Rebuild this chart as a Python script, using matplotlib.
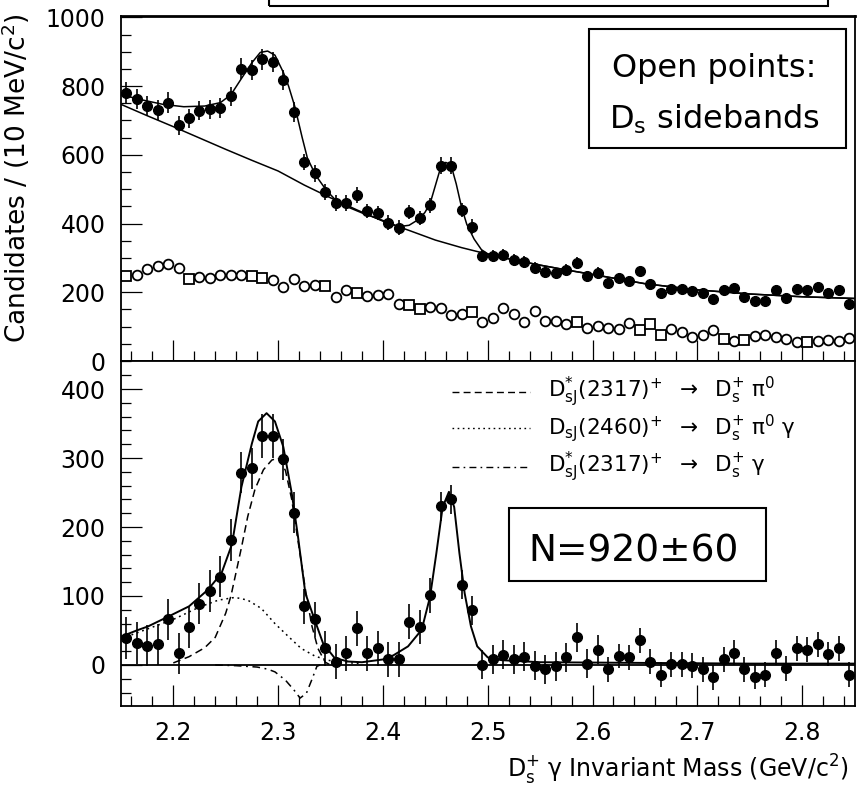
import numpy as np
import matplotlib
matplotlib.use("Agg")
import matplotlib.pyplot as plt
from matplotlib.patches import Rectangle
from matplotlib.ticker import MultipleLocator

plt.rcParams['font.family'] = ['DejaVu Sans']
plt.rcParams['mathtext.default'] = 'regular'

# 10 MeV bins from 2.15 to 2.85 GeV
bin_edges = np.arange(2.15, 2.8501, 0.01)
mass = 0.5 * (bin_edges[:-1] + bin_edges[1:])

# top panel: signal region candidates
top_counts = [781, 762, 742, 730, 752, 686, 706, 728, 733, 736,
              770, 851, 847, 878, 870, 818, 725, 579, 546, 492,
              461, 459, 482, 437, 430, 403, 388, 434, 417, 453,
              568, 568, 440, 391, 306, 306, 308, 294, 288, 272,
              259, 255, 265, 286, 246, 257, 228, 241, 233, 262,
              223, 197, 209, 209, 204, 197, 180, 207, 212, 185,
              175, 175, 207, 182, 209, 207, 214, 197, 207, 165]
top_err = [30, 30, 30, 30, 30, 28, 28, 28, 28, 28,
           28, 30, 30, 30, 30, 30, 30, 24, 24, 23,
           23, 23, 23, 21, 21, 21, 21, 21, 21, 21,
           25, 25, 21, 21, 17, 17, 17, 17, 17, 17,
           17, 17, 17, 17, 17, 17, 15, 15, 15, 15,
           15, 15, 15, 15, 15, 15, 15, 15, 15, 15,
           15, 15, 15, 15, 15, 15, 15, 15, 15, 15]

# top panel: Ds sideband candidates (open points)
side_counts = [246, 249, 267, 277, 283, 272, 240, 245, 243, 250,
               250, 251, 246, 243, 236, 214, 238, 218, 220, 218,
               187, 207, 199, 189, 192, 194, 165, 163, 151, 157,
               155, 134, 136, 143, 114, 126, 155, 136, 114, 146,
               116, 115, 107, 114, 97, 102, 97, 92, 112, 90,
               107, 75, 92, 84, 71, 75, 90, 65, 58, 61,
               73, 76, 71, 63, 54, 55, 58, 61, 58, 68]
side_square = [0, 6, 12, 13, 19, 22, 27, 28, 33, 43, 49, 50, 51, 57, 59, 65]

# top panel fit curves
bkg_x = [2.15, 2.175, 2.20, 2.225, 2.25, 2.275, 2.30, 2.325, 2.35, 2.375,
         2.40, 2.425, 2.45, 2.475, 2.50, 2.525, 2.55, 2.575, 2.60, 2.65,
         2.70, 2.75, 2.80, 2.85]
bkg_y = [747, 714, 682, 649, 616, 584, 553, 512, 475, 440,
         407, 380, 352, 330, 311, 294, 279, 265, 252, 225,
         207, 195, 187, 182]
fit_x = [2.15, 2.17, 2.19, 2.21, 2.23, 2.245, 2.255, 2.265, 2.275, 2.283,
         2.29, 2.297, 2.305, 2.31, 2.316, 2.323, 2.328, 2.336, 2.346, 2.355,
         2.365, 2.38, 2.40, 2.415, 2.425, 2.434, 2.44, 2.445, 2.45, 2.455,
         2.46, 2.465, 2.47, 2.475, 2.48, 2.487, 2.494, 2.50, 2.525, 2.55,
         2.575, 2.60, 2.65, 2.70, 2.75, 2.80, 2.85]
fit_y = [775, 760, 747, 740, 742, 752, 775, 822, 868, 898,
         902, 890, 840, 800, 740, 650, 590, 540, 497, 468,
         450, 431, 409, 391, 395, 412, 432, 458, 510, 562,
         578, 570, 515, 448, 398, 355, 324, 312, 294, 279,
         265, 252, 225, 207, 195, 187, 182]

# bottom panel: sideband/background subtracted
sub_counts = [39, 32, 28, 30, 66, 17, 55, 89, 107, 128,
              181, 279, 285, 332, 332, 298, 221, 85, 66, 24,
              5, 17, 53, 17, 24, 8, 8, 63, 55, 101,
              230, 240, 116, 79, 0, 8, 15, 8, 12, -1,
              -6, -2, 11, 40, 2, 22, -6, 13, 11, 36,
              5, -14, 1, 1, -1, -6, -18, 8, 18, -6,
              -17, -14, 18, -5, 24, 22, 30, 16, 24, -14]
sub_err = [30, 30, 30, 30, 30, 30, 30, 30, 30, 30,
           30, 30, 30, 32, 32, 30, 30, 25, 25, 25,
           25, 25, 25, 25, 25, 25, 25, 25, 25, 25,
           21, 21, 21, 21, 21, 21, 21, 21, 21, 21,
           21, 21, 21, 21, 21, 21, 18, 18, 18, 18,
           18, 18, 18, 18, 18, 18, 18, 18, 18, 18,
           18, 18, 18, 18, 18, 18, 18, 18, 18, 18]

# bottom panel fit curves
tot_x = [2.15, 2.165, 2.176, 2.195, 2.215, 2.233, 2.246, 2.256, 2.265, 2.275,
         2.281, 2.289, 2.297, 2.305, 2.313, 2.319, 2.326, 2.335, 2.343, 2.354,
         2.367, 2.38, 2.40, 2.41, 2.424, 2.437, 2.445, 2.451, 2.457, 2.463,
         2.468, 2.473, 2.478, 2.484, 2.49, 2.50, 2.513, 2.55, 2.65, 2.75, 2.85]
tot_y = [41, 50, 56, 70, 85, 109, 133, 175, 258, 321,
         353, 365, 353, 316, 249, 186, 104, 65, 31, 10,
         5, 4, 8, 14, 27, 51, 99, 162, 229, 251,
         229, 162, 104, 56, 27, 11, 7, 4, 3, 2, 2]
pi0_x = [2.20, 2.215, 2.23, 2.24, 2.25, 2.255, 2.26, 2.265, 2.271, 2.278,
         2.286, 2.294, 2.30, 2.307, 2.313, 2.319, 2.326, 2.332, 2.338, 2.345,
         2.35]
pi0_y = [3, 12, 25, 40, 75, 100, 135, 170, 215, 255,
         283, 297, 300, 282, 240, 180, 110, 58, 24, 4,
         0]
r2460_x = [2.15, 2.175, 2.20, 2.225, 2.243, 2.259, 2.271, 2.284, 2.297, 2.31,
           2.322, 2.335, 2.347, 2.36, 2.38]
r2460_y = [38, 52, 66, 84, 94, 98, 94, 82, 60, 41,
           24, 13, 7, 4, 2]
gam_x = [2.24, 2.26, 2.28, 2.29, 2.297, 2.307, 2.315, 2.321, 2.327, 2.332,
         2.337, 2.34]
gam_y = [0, -1, -3, -6, -10, -22, -36, -48, -41, -22,
         -2, 0]

legend_labels = [
    r"D$_{sJ}^{*}$(2317)$^{+}$ $\;\rightarrow\;$ D$_{s}^{+}$ $\pi^{0}$",
    r"D$_{sJ}$(2460)$^{+}$ $\;\rightarrow\;$ D$_{s}^{+}$ $\pi^{0}$ $\gamma$",
    r"D$_{sJ}^{*}$(2317)$^{+}$ $\;\rightarrow\;$ D$_{s}^{+}$ $\gamma$",
]

fig = plt.figure(figsize=(8.61, 7.91), dpi=100)
ax1 = fig.add_axes([0.1404, 0.5436, 0.8521, 0.4366])
ax2 = fig.add_axes([0.1404, 0.1075, 0.8521, 0.4361])

side_counts = np.array(side_counts)
sq = np.zeros(len(mass), dtype=bool)
sq[side_square] = True

# --- top panel
ax1.plot(bkg_x, bkg_y, color='black', lw=1.1)
ax1.plot(fit_x, fit_y, color='black', lw=1.1)
ax1.plot(mass[~sq], side_counts[~sq], 'o', ms=7, mfc='white', mec='black', mew=1.3)
ax1.plot(mass[sq], side_counts[sq], 's', ms=6.5, mfc='white', mec='black', mew=1.3)
ax1.errorbar(mass, top_counts, yerr=top_err, fmt='o', ms=7, color='black',
             elinewidth=1.2, capsize=0)
ax1.set_ylim(0, 1005)
ax1.yaxis.set_major_locator(MultipleLocator(200))
ax1.yaxis.set_minor_locator(MultipleLocator(50))

# --- bottom panel
ax2.axhline(0, color='black', lw=1.3)
ax2.plot(tot_x, tot_y, color='black', lw=1.4)
ax2.plot(pi0_x, pi0_y, color='black', lw=1.1, dashes=(5, 3))
ax2.plot(r2460_x, r2460_y, color='black', lw=1.1, dashes=(1.2, 2.5))
ax2.plot(gam_x, gam_y, color='black', lw=1.1, dashes=(5, 3, 1.2, 3))
ax2.errorbar(mass, sub_counts, yerr=sub_err, fmt='o', ms=7, color='black',
             elinewidth=1.2, capsize=0)
ax2.set_ylim(-59.4, 440.6)
ax2.yaxis.set_major_locator(MultipleLocator(100))
ax2.yaxis.set_minor_locator(MultipleLocator(20))

for ax in (ax1, ax2):
    ax.set_xlim(2.15, 2.85)
    ax.xaxis.set_major_locator(MultipleLocator(0.1))
    ax.xaxis.set_minor_locator(MultipleLocator(0.02))
    ax.tick_params(which='both', direction='in', top=False, right=False,
                   width=0.9, labelsize=17)
    ax.tick_params(which='major', length=15)
    ax.tick_params(which='minor', length=7.5)
    ax.tick_params(axis='y', pad=11)
    ax.tick_params(axis='x', pad=11)
    for s in ax.spines.values():
        s.set_linewidth(1.3)
ax1.tick_params(axis='x', labelbottom=False)
ax1.spines['top'].set_linewidth(2.0)

# legend drawn by hand in axes coordinates
sty = [dict(dashes=(5, 3)), dict(dashes=(1.2, 2.5)), dict(dashes=(5, 3, 1.2, 3))]
rows = [0.910, 0.806, 0.693]
for lab, st, yy in zip(legend_labels, sty, rows):
    ax2.plot([0.4513, 0.5577], [yy, yy], transform=ax2.transAxes,
             color='black', lw=1.0, **st)
    ax2.text(0.5824, yy, lab, transform=ax2.transAxes, fontsize=15.5,
             va='center', ha='left')

# axis labels
fig.text(16 / 861, 1 - 178 / 791, r"Candidates / (10 MeV/c$^{2}$)",
         rotation=90, ha='center', va='center', fontsize=19)
fig.text(849 / 861, 1 - 770 / 791,
         r"D$_{s}^{+}$ $\gamma$ Invariant Mass (GeV/c$^{2}$)",
         ha='right', va='center', fontsize=17)

# boxes
fig.patches.append(Rectangle((0.3124, 0.9924), 0.6492, 0.03, transform=fig.transFigure,
                             fill=False, lw=1.5, ec='black', clip_on=False))
fig.patches.append(Rectangle((0.6841, 0.8129), 0.2985, 0.1504, transform=fig.transFigure,
                             fill=False, lw=1.5, ec='black'))
fig.text(0.8293, 0.9027, "Open points:", ha='center', va='baseline', fontsize=23)
fig.text(0.8293, 0.8378, r"D$_{s}$ sidebands", ha='center', va='baseline', fontsize=23)
fig.patches.append(Rectangle((0.5912, 0.2655), 0.2985, 0.0923, transform=fig.transFigure,
                             fill=False, lw=1.5, ec='black'))
fig.text(0.7358, 0.2899, "N=920±60", ha='center', va='baseline', fontsize=27)

fig.savefig("out.png", dpi=100)
